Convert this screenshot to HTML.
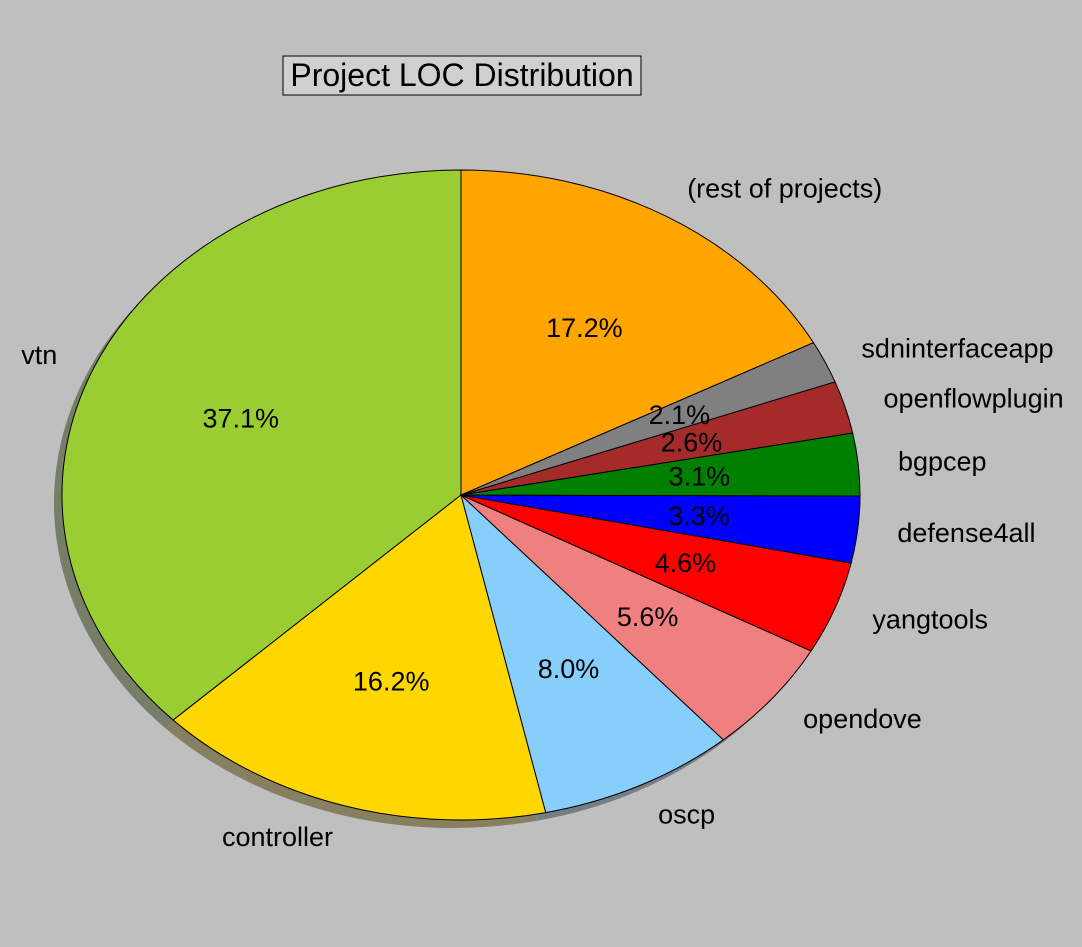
<!DOCTYPE html>
<html><head><meta charset="utf-8"><style>
body{margin:0;background:#bfbfbf;}
svg{display:block;font-family:"Liberation Sans",sans-serif;}
</style></head><body>
<svg id="chart" width="1082" height="947" viewBox="0 0 1082 947">
<rect x="0" y="0" width="1082" height="947" fill="#bfbfbf"/>
<g id="shadows"></g>
<g id="slices"></g>
<g id="labels"></g>
<rect x="283" y="56" width="358" height="39" fill="#d0d0d0" stroke="#000" stroke-width="1"/>
<text x="462" y="86" text-anchor="middle" font-size="32">Project LOC Distribution</text>
</svg>
<script>
const categories=["vtn","controller","oscp","opendove","yangtools","defense4all","bgpcep","openflowplugin","sdninterfaceapp","(rest of projects)"];
const values=[37.1,16.2,8.0,5.6,4.6,3.3,3.1,2.6,2.1,17.2];
const pctLabels=["37.1%","16.2%","8.0%","5.6%","4.6%","3.3%","3.1%","2.6%","2.1%","17.2%"];
const colors=["#9acd32","#ffd700","#87cefa","#f08080","#ff0000","#0000ff","#008000","#a52a2a","#808080","#ffa500"];
const NS="http://www.w3.org/2000/svg";
const cx=461,cy=495,rx=399,ry=325;
const total=values.reduce((a,b)=>a+b,0);
const px=(a,f)=>cx+f*rx*Math.cos(a*Math.PI/180);
const py=(a,f)=>cy-f*ry*Math.sin(a*Math.PI/180);
function arcPath(a0,a1,dx,dy){
  const large=(a1-a0)>180?1:0;
  return `M${cx+dx},${cy+dy} L${px(a0,1)+dx},${py(a0,1)+dy} A${rx},${ry} 0 ${large} 0 ${px(a1,1)+dx},${py(a1,1)+dy} Z`;
}
function shade(hex){
  const n=parseInt(hex.slice(1),16);const r=n>>16,g=(n>>8)&255,b=n&255;
  const m=v=>Math.round(0.3*v*0.5+191*0.5);
  return `rgb(${m(r)},${m(g)},${m(b)})`;
}
let a=90;
const sh=document.getElementById('shadows'),sl=document.getElementById('slices'),lb=document.getElementById('labels');
values.forEach((v,i)=>{
  const a1=a+v/total*360;
  const s=document.createElementNS(NS,'path');
  s.setAttribute('d',arcPath(a,a1,-8,8));
  s.setAttribute('fill',shade(colors[i]));
  
  
  sh.appendChild(s);
  a=a1;
});
a=90;
values.forEach((v,i)=>{
  const a1=a+v/total*360,mid=(a+a1)/2;
  const p=document.createElementNS(NS,'path');
  p.setAttribute('d',arcPath(a,a1,0,0));
  p.setAttribute('fill',colors[i]);p.setAttribute('stroke','#000');p.setAttribute('stroke-width','1');
  
  
  sl.appendChild(p);
  const lx=px(mid,1.1),ly=py(mid,1.1);
  const t=document.createElementNS(NS,'text');
  t.setAttribute('x',lx);t.setAttribute('y',ly+9);t.setAttribute('font-size','27');
  t.setAttribute('text-anchor',Math.cos(mid*Math.PI/180)>0?'start':'end');
  t.textContent=categories[i];
  
  
  lb.appendChild(t);
  const q=document.createElementNS(NS,'text');
  q.setAttribute('x',px(mid,0.6));q.setAttribute('y',py(mid,0.6)+9);q.setAttribute('font-size','27');
  q.setAttribute('text-anchor','middle');q.textContent=pctLabels[i];
  
  
  lb.appendChild(q);
  a=a1;
});
</script>
</body></html>
